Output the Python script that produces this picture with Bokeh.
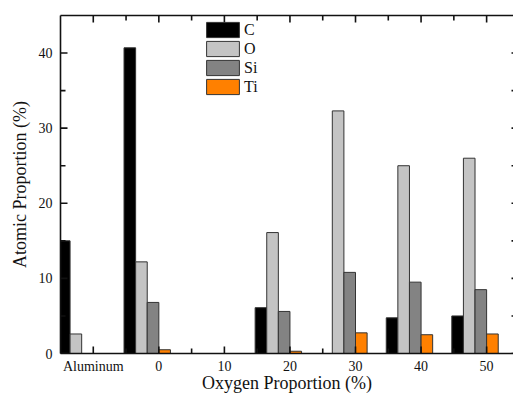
from bokeh.plotting import figure
from bokeh.models import (ColumnDataSource, FixedTicker, LinearAxis, Range1d,
                          Legend, LegendItem)
from bokeh.transform import dodge
from bokeh.embed import file_html
from bokeh.resources import INLINE

categories = ["Aluminum", "0", "10", "20", "30", "40", "50"]
C_vals = [15.0, 40.7, 0.0, 6.1, 0.0, 4.75, 5.0]
O_vals = [2.6, 12.2, 0.0, 16.1, 32.3, 25.0, 26.0]
Si_vals = [0.0, 6.8, 0.0, 5.6, 10.8, 9.5, 8.5]
Ti_vals = [0.0, 0.5, 0.0, 0.3, 2.75, 2.5, 2.6]
y_ticks = [0, 10, 20, 30, 40]
y_minor = [5, 15, 25, 35]

pos = list(range(1, len(categories) + 1))
x_minor = [x + 0.5 for x in pos[:-1]]
src = ColumnDataSource(dict(pos=pos, C=C_vals, O=O_vals, Si=Si_vals, Ti=Ti_vals))

x_lo, x_hi = 0.5, 7.41
y_lo, y_hi = 0, 45
FW, FH = 453, 338

FONT = "Liberation Serif"
AX_COLOR = "#111111"

p = figure(frame_width=FW, frame_height=FH,
           min_border_left=60, min_border_right=0, min_border_top=15,
           min_border_bottom=44,
           x_range=Range1d(x_lo, x_hi), y_range=Range1d(y_lo, y_hi),
           output_backend="svg", toolbar_location=None,
           x_axis_location=None, y_axis_location=None)
p.outline_line_color = None
p.xgrid.visible = False
p.ygrid.visible = False

w = 0.177
series = [("C", "#000000"), ("O", "#c4c4c4"), ("Si", "#838383"), ("Ti", "#ff8000")]
offsets = [-2.5 * w, -1.5 * w, -0.5 * w, 0.5 * w]
items = []
for (name, col), off in zip(series, offsets):
    r = p.vbar(x=dodge("pos", off), top=name, width=w, bottom=0, source=src,
               fill_color=col, line_color="#333333", line_width=1)
    items.append(LegendItem(label=name, renderers=[r]))

# inward tick marks drawn as thin filled quads (pixel sizes -> data units)
dx = (x_hi - x_lo) / FW
dy = (y_hi - y_lo) / FH
MAJ, MIN, TW = 7, 5, 0.8
L, R, B, T = [], [], [], []
for xs, ln in ((pos, MAJ), (x_minor, MIN)):
    for x in xs:
        L += [x - TW * dx] * 2
        R += [x + TW * dx] * 2
        B += [y_lo - 2 * dy, y_hi - ln * dy]
        T += [y_lo + ln * dy, y_hi + 2 * dy]
for ys, ln in ((y_ticks, MAJ), (y_minor, MIN)):
    for y in ys:
        L += [x_lo - 2 * dx, x_hi - 2 * dx]
        R += [x_lo + ln * dx, x_hi + 2 * dx]
        B += [y - TW * dy] * 2
        T += [y + TW * dy] * 2
p.quad(left=L, right=R, bottom=B, top=T, fill_color=AX_COLOR, line_color=None)

xt = FixedTicker(ticks=pos, minor_ticks=[])
yt = FixedTicker(ticks=y_ticks, minor_ticks=[])


def style(ax):
    ax.axis_line_color = AX_COLOR
    ax.axis_line_width = 1.6
    ax.major_tick_line_color = None
    ax.minor_tick_line_color = None
    ax.major_tick_out = 0
    ax.minor_tick_out = 0
    ax.major_label_text_font = FONT
    ax.major_label_text_font_size = "14px"
    ax.major_label_text_color = "#111111"
    ax.axis_label_text_font = FONT
    ax.axis_label_text_font_style = "normal"
    ax.axis_label_text_font_size = "18px"
    ax.axis_label_text_color = "#111111"


xb = LinearAxis(ticker=xt, axis_label="Oxygen Proportion (%)",
                major_label_overrides={pp: c for pp, c in zip(pos, categories)})
style(xb)
xb.major_label_standoff = 5
xb.axis_label_standoff = -4
p.add_layout(xb, "below")

xa = LinearAxis(ticker=xt, major_label_overrides={pp: "" for pp in pos})
style(xa)
xa.major_label_text_font_size = "0px"
xa.major_label_standoff = 0
p.add_layout(xa, "above")

yl = LinearAxis(ticker=yt, axis_label="Atomic Proportion (%)")
style(yl)
yl.major_label_standoff = 8
yl.axis_label_standoff = 6
p.add_layout(yl, "left")

legend = Legend(items=items, location=(142, 257), orientation="vertical")
legend.glyph_width = 41
legend.glyph_height = 19
legend.label_height = 19
legend.spacing = 0
legend.padding = 0
legend.margin = 0
legend.label_standoff = 1
legend.border_line_alpha = 0
legend.background_fill_alpha = 0
legend.label_text_font = FONT
legend.label_text_font_size = "16px"
legend.label_text_color = "#111111"
p.add_layout(legend, "center")

open("out.html", "w").write(file_html(p, INLINE))
